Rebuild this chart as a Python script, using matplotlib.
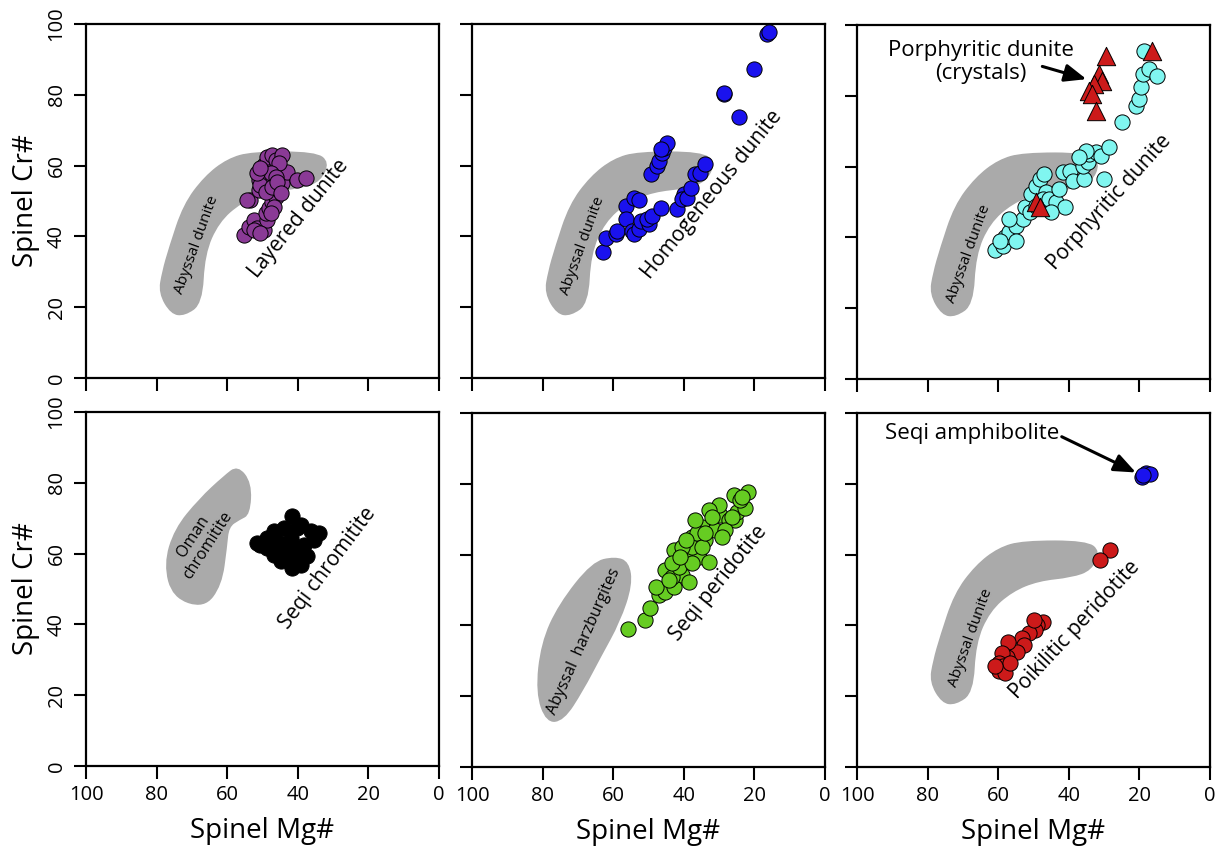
import matplotlib
matplotlib.use("Agg")
import matplotlib.pyplot as plt
from matplotlib.patches import PathPatch
from matplotlib.path import Path

plt.rcParams.update({"font.family": ["Open Sans", "DejaVu Sans"], "font.size": 14.5})

GRAY = "#aaaaaa"
PURPLE, BLUE, CYAN, RED, GREEN = "#8a3a96", "#1a12ee", "#80f6f0", "#cc1a1a", "#66cc22"

# gray reference fields (Mg#, Cr#), outline control points
ABYSSAL_DUNITE_X = [79.5, 78.5, 76.5, 72.5, 66.5, 60.0, 53.0, 35.0, 31.0, 33.5, 39.2, 48.6, 56.0, 62.3, 66.3, 67.0, 72.0, 76.0]
ABYSSAL_DUNITE_Y = [24.0, 30.0, 37.0, 49.0, 57.0, 62.0, 64.0, 64.0, 61.0, 55.5, 53.5, 52.5, 49.5, 44.0, 35.0, 21.0, 17.5, 18.0]
OMAN_X = [57.0, 53.0, 53.5, 56.5, 59.5, 60.0, 61.5, 66.5, 75.5, 78.0, 75.0, 68.0, 61.0]
OMAN_Y = [85.0, 80.0, 71.0, 69.5, 67.5, 62.0, 51.0, 44.5, 47.5, 57.0, 67.0, 75.5, 82.0]
HARZ_X = [55.5, 59.5, 66.0, 75.5, 80.5, 82.0, 79.0, 74.0, 68.5, 63.5, 58.0, 54.5]
HARZ_Y = [58.0, 59.5, 58.0, 46.0, 35.0, 21.0, 12.5, 13.0, 21.5, 31.0, 41.0, 51.5]

# layered dunite
LAY_MG = [55.3, 53.9, 52.5, 49.6, 51.5, 48.7, 49.1, 48.2, 47.2, 46.3, 45.4, 44.4, 43.0, 40.2, 37.8,
          53.4, 54.4, 51.1, 50.1, 51.1, 48.7, 49.6, 48.7, 47.2, 46.3, 44.4, 45.4, 47.7, 46.3, 50.6,
          49.1, 47.2, 45.8, 51.5, 50.6, 44.9, 46.8, 47.7, 52.5, 50.6]
LAY_CR = [40.4, 42.7, 44.6, 41.8, 42.3, 44.6, 46.5, 47.9, 49.8, 51.2, 53.1, 55.0, 58.3, 55.9, 56.4,
          50.4, 50.3, 53.1, 55.5, 55.9, 55.9, 60.2, 62.5, 63.0, 61.6, 63.0, 60.6, 57.8, 56.9, 54.5,
          52.6, 54.0, 55.5, 57.8, 59.2, 52.2, 48.4, 46.5, 41.8, 40.9]
# homogeneous dunite
HOM_MG = [63.0, 62.1, 59.2, 58.8, 56.4, 56.4, 54.1, 52.7, 54.6, 54.1, 52.7, 52.2, 49.9, 50.3, 48.9,
          46.6, 49.4, 47.5, 47.0, 46.1, 45.6, 44.7, 46.6, 41.9, 40.0, 40.5, 39.1, 38.1, 36.7, 35.3,
          33.9, 28.7, 28.7, 24.5, 20.0, 16.3, 15.8]
HOM_CR = [35.7, 39.5, 40.6, 41.5, 48.6, 44.8, 50.9, 50.2, 41.5, 40.6, 42.0, 44.4, 43.4, 44.8, 45.8,
          47.9, 57.5, 59.9, 61.3, 63.6, 65.1, 66.5, 64.6, 47.6, 51.9, 50.5, 50.9, 53.8, 57.5, 58.0,
          60.5, 80.1, 80.6, 73.8, 87.2, 97.1, 97.6]
# porphyritic dunite (matrix) and crystals
POR_MG = [61.0, 58.7, 58.2, 56.8, 54.9, 53.0, 52.5, 50.6, 49.2, 48.3, 46.9, 46.4, 47.4, 45.5, 43.6,
          41.2, 42.7, 41.7, 39.8, 38.9, 35.6, 36.1, 34.6, 34.2, 32.3, 30.9, 28.5, 29.9, 35.1, 37.0,
          51.1, 49.2, 45.0, 56.8, 59.6, 54.9, 24.8, 21.0, 20.1, 19.6, 19.1, 17.2, 14.9, 18.6]
POR_CR = [36.3, 37.7, 40.0, 41.4, 43.3, 45.2, 48.5, 52.3, 54.6, 56.5, 57.9, 52.7, 50.8, 50.8, 49.9,
          48.5, 53.7, 58.4, 58.8, 56.0, 56.5, 60.3, 61.2, 63.6, 64.0, 63.1, 65.4, 56.5, 64.5, 62.6,
          47.1, 49.0, 47.1, 45.2, 39.0, 39.0, 72.5, 77.2, 79.1, 82.4, 86.2, 87.6, 85.7, 92.7]
CRY_MG = [29.5, 16.3, 31.4, 30.5, 32.8, 34.2, 33.3, 32.3, 49.2, 48.3]
CRY_CR = [91.3, 92.7, 86.2, 84.3, 83.3, 81.4, 80.5, 75.8, 49.9, 48.5]
# Seqi chromitite
CHR_MG = [50.6, 48.7, 46.8, 44.0, 41.6, 40.2, 39.2, 36.4, 34.0, 35.4, 37.3, 39.2, 41.6, 44.9, 46.8,
          44.0, 43.0, 40.2, 48.7, 45.8, 42.0, 41.1, 38.3, 51.5]
CHR_CR = [62.5, 64.4, 66.3, 67.2, 70.5, 67.2, 68.1, 66.3, 65.8, 63.9, 59.2, 56.9, 55.9, 57.8, 59.7,
          62.5, 59.7, 60.6, 61.6, 63.5, 64.4, 57.8, 62.5, 63.0]
# Seqi peridotite
PER_MG = [55.7, 51.0, 49.6, 47.0, 45.2, 42.8, 40.5, 38.6, 45.2, 42.8, 39.5, 37.7, 35.8, 33.0, 34.8,
          33.9, 31.1, 29.7, 30.1, 33.0, 27.3, 25.4, 25.0, 22.6, 25.9, 21.7, 43.3, 41.4, 37.7, 40.5,
          36.3, 32.0, 36.7, 39.5, 43.3, 37.7, 28.3, 26.4, 24.0, 23.6, 41.0, 48.0, 44.2, 34.8, 29.2, 33.9]
PER_CR = [38.9, 41.5, 44.8, 48.6, 49.5, 50.9, 54.2, 52.3, 55.6, 61.3, 60.8, 65.1, 59.4, 58.0, 67.9,
          64.1, 66.9, 71.2, 74.0, 72.6, 69.8, 69.8, 72.1, 73.1, 76.8, 77.8, 53.7, 56.6, 62.2, 62.2,
          66.0, 70.7, 69.8, 64.1, 57.5, 57.5, 66.9, 70.7, 75.4, 76.4, 59.4, 50.9, 52.8, 62.2, 65.1, 66.0]
# poikilitic peridotite and Seqi amphibolite
POI_MG = [28.3, 31.2, 47.2, 49.1, 49.5, 51.4, 53.3, 52.8, 54.7, 57.1, 57.5, 58.9, 59.9, 58.5, 59.9,
          58.0, 56.6, 60.8, 50.0]
POI_CR = [61.4, 58.6, 41.0, 40.1, 38.7, 37.8, 36.4, 34.5, 32.6, 35.4, 31.2, 32.1, 29.3, 28.4, 27.0,
          26.5, 29.3, 28.4, 41.5]
AMP_MG = [19.4, 18.0, 17.0, 18.9]
AMP_CR = [82.0, 83.0, 82.8, 82.5]

TICKS = [0, 20, 40, 60, 80, 100]
W, H = 1219, 849


def panel(left, top, xlab, ylab):
    ax = fig.add_axes([left / W, 1 - (top + 354) / H, 353 / W, 354 / H])
    ax.set_xlim(100, 0)
    ax.set_ylim(0, 100)
    ax.set_xticks(TICKS)
    ax.set_yticks(TICKS)
    ax.tick_params(direction="out", length=9, width=1.5, labelsize=14.5, pad=5)
    ax.tick_params(axis="y", labelrotation=90)
    for lab in ax.get_yticklabels():
        lab.set_va("center")
    for s in ax.spines.values():
        s.set_linewidth(1.6)
    if not xlab:
        ax.set_xticklabels([])
    else:
        ax.set_xlabel("Spinel Mg#", fontsize=20, labelpad=8)
    if not ylab:
        ax.set_yticklabels([])
    else:
        ax.set_ylabel("Spinel Cr#", fontsize=20, labelpad=5)
    return ax


def field(ax, xs, ys):
    # smooth closed outline: quadratic curves through edge midpoints
    pts = list(zip(xs, ys))
    n = len(pts)
    mids = [((pts[i][0] + pts[(i + 1) % n][0]) / 2, (pts[i][1] + pts[(i + 1) % n][1]) / 2)
            for i in range(n)]
    verts, codes = [mids[-1]], [Path.MOVETO]
    for i in range(n):
        verts += [pts[i], mids[i]]
        codes += [Path.CURVE3, Path.CURVE3]
    ax.add_patch(PathPatch(Path(verts, codes), facecolor=GRAY, edgecolor="none", zorder=1))


def dots(ax, xs, ys, color, marker="o", s=120):
    ax.scatter(xs, ys, s=s, c=color, marker=marker, edgecolors="black", linewidths=0.7, zorder=3)


def label(ax, x, y, text, rot, fs=15):
    ax.text(x, y, text, rotation=rot, ha="center", va="center", fontsize=fs,
            rotation_mode="anchor", zorder=4, linespacing=1.05)


def pointer(ax, tail, head):
    ax.annotate("", xy=head, xytext=tail, zorder=5,
                arrowprops=dict(arrowstyle="-|>,head_width=0.45,head_length=1.1",
                                color="black", lw=2.2, shrinkA=0, shrinkB=0, mutation_scale=12))


fig = plt.figure(figsize=(W / 100, H / 100), dpi=100)
LEFTS = [86, 472, 857]

ax1 = panel(LEFTS[0], 24, False, True)
field(ax1, ABYSSAL_DUNITE_X, ABYSSAL_DUNITE_Y)
dots(ax1, LAY_MG, LAY_CR, PURPLE)
label(ax1, 68.6, 37.6, "Abyssal dunite", 70, 11)
label(ax1, 39.7, 45.1, "Layered dunite", 51)

ax2 = panel(LEFTS[1], 24, False, False)
field(ax2, ABYSSAL_DUNITE_X, ABYSSAL_DUNITE_Y)
dots(ax2, HOM_MG, HOM_CR, BLUE)
label(ax2, 68.6, 37.3, "Abyssal dunite", 70, 11)
label(ax2, 32.0, 51.9, "Homogeneous dunite", 51)

ax3 = panel(LEFTS[2], 25, False, False)
field(ax3, ABYSSAL_DUNITE_X, ABYSSAL_DUNITE_Y)
dots(ax3, POR_MG, POR_CR, CYAN)
dots(ax3, CRY_MG, CRY_CR, RED, marker="^", s=175)
label(ax3, 68.5, 35.3, "Abyssal dunite", 70, 11)
label(ax3, 28.5, 49.9, "Porphyritic dunite", 48)
ax3.text(64.8, 89.5, "Porphyritic dunite\n(crystals)", ha="center", va="center",
         fontsize=16, linespacing=1.15, zorder=5)
pointer(ax3, (47.5, 88.3), (35.0, 84.7))

ax4 = panel(LEFTS[0], 412, True, True)
field(ax4, OMAN_X, OMAN_Y)
dots(ax4, CHR_MG, CHR_CR, "black")
label(ax4, 67.6, 63.5, "Oman\nchromitite", 57, 11.5)
label(ax4, 31.6, 55.9, "Seqi chromitite", 53)

ax5 = panel(LEFTS[1], 413, True, False)
field(ax5, HARZ_X, HARZ_Y)
dots(ax5, PER_MG, PER_CR, GREEN)
label(ax5, 68.2, 35.4, "Abyssal  harzburgites", 66, 11.5)
label(ax5, 30.1, 51.9, "Seqi peridotite", 51)

ax6 = panel(LEFTS[2], 413, True, False)
field(ax6, ABYSSAL_DUNITE_X, ABYSSAL_DUNITE_Y)
dots(ax6, POI_MG, POI_CR, RED)
dots(ax6, AMP_MG, AMP_CR, BLUE)
label(ax6, 67.9, 36.4, "Abyssal dunite", 70, 11)
label(ax6, 38.2, 38.7, "Poikilitic peridotite", 47)
ax6.text(67.4, 94.3, "Seqi amphibolite", ha="center", va="center", fontsize=16, zorder=5)
pointer(ax6, (42.0, 93.3), (21.0, 83.2))

fig.savefig("out.png", dpi=100)
